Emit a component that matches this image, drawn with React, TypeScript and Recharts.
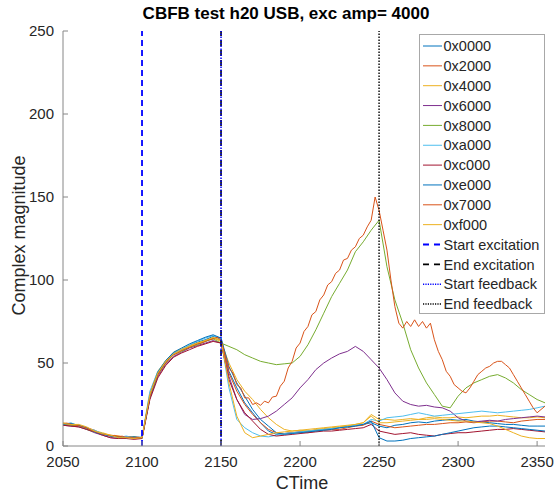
import React from 'react';
import { LineChart, Line, XAxis, YAxis, ReferenceLine, Label } from 'recharts';

// ---------- data ----------
const TITLE = 'CBFB test h20 USB, exc amp= 4000';
const X_LABEL = 'CTime';
const Y_LABEL = 'Complex magnitude';
const X_TICKS = [2050, 2100, 2150, 2200, 2250, 2300, 2350];
const Y_TICKS = [0, 50, 100, 150, 200, 250];
const X_DOMAIN = [2050, 2355];
const Y_DOMAIN = [0, 250];

// fine time grid (step 2.5) used by 0x7000; coarse series use every 2nd point (step 5)
const T_START = 2050;
const T_STEP = 2.5;

const S0000 = [13.5, 13, 12.5, 10.5, 9, 7.5, 6, 5.5, 5.5, 5, 4.5, 31, 44, 51, 56, 58, 60.5, 62.5, 64, 66, 65, 45, 35, 26, 20, 14, 9, 7, 7.5, 8, 8.5, 9, 9.5, 10, 10.5, 11, 12, 12.5, 13, 14, 12, 11, 12.5, 13, 14, 14.5, 14, 15, 15.5, 16, 15.5, 16, 15, 14.5, 14, 13.5, 13, 13, 12.5, 12, 12, 12];
const S2000 = [13, 13.5, 12, 11, 9.5, 7, 6.5, 6, 5, 5.5, 5, 29, 43, 50, 55.5, 57.5, 59.5, 61.5, 63, 65, 64, 44, 33, 25, 19, 14, 10, 8, 7.5, 8, 8.5, 8, 9, 9.5, 10, 10, 11, 12, 12.5, 15, 13, 12, 11, 11.5, 12, 12.5, 13, 13, 13.5, 14, 14, 14.5, 14, 14.5, 15, 15, 14.5, 14, 15, 15.5, 16, 16];
const S4000 = [14, 13, 12.5, 11, 9, 8, 6.5, 6, 5.5, 5, 5, 32, 45, 51.5, 56.5, 58.5, 60.5, 62, 63.5, 65, 63, 50, 40, 33, 28, 22, 17, 13, 10, 9, 9.5, 9, 10, 10.5, 11, 11.5, 12, 13, 14, 19, 16, 16, 15.5, 16, 16.5, 16, 17, 17.5, 17, 17, 17.5, 17, 17.5, 18, 18, 18.5, 18, 17.5, 17, 17, 17.5, 17];
const S6000 = [12.5, 12, 11.5, 10, 8, 6.5, 5, 4.5, 5.5, 4.5, 5, 29, 42, 49, 54, 56.5, 59, 60.5, 62, 63.5, 62, 42, 28, 19, 16, 16.5, 18, 21, 25, 29, 35, 40, 46, 50, 53, 55.5, 57, 60, 57, 52, 47, 40, 32, 27, 25, 24, 24.5, 23.5, 23, 21, 17, 15, 14.5, 15, 15.5, 15, 16, 16.5, 17, 17.5, 18, 17.5];
const S8000 = [13, 12.5, 12, 10, 8.5, 7.5, 6, 5.5, 5, 5.5, 4.5, 30, 43, 50, 55, 57, 59.5, 61, 63, 64.5, 62, 60, 58, 55, 53, 51, 50, 49, 49.5, 50, 54, 61, 70, 80, 90, 98, 106, 117, 123, 130, 136, 108, 88, 74, 58, 47, 38, 31, 24, 23, 30, 35, 38, 40, 42, 43, 41, 38, 34, 31, 28, 26];
const SA000 = [13, 14, 12, 10.5, 9.5, 7.5, 6, 5, 6, 5, 5.5, 33, 45, 51, 56, 58, 61, 63, 65, 66.5, 64, 35, 16, 11, 8, 6, 5.5, 6.5, 7.5, 8, 8.5, 9, 9.5, 10, 10.5, 11, 11.5, 12.5, 13, 16, 15, 17, 17.5, 18, 19, 20, 19, 18, 18.5, 19, 19.5, 20, 20.5, 21, 20.5, 20, 20.5, 21, 21.5, 22, 23, 24];
const SC000 = [12.5, 12, 11.5, 10, 8.5, 6.5, 5, 4.5, 4.5, 4, 4.5, 28, 41, 48.5, 53.5, 56, 58, 60, 61.5, 63, 62, 40, 28, 20, 15, 10, 7, 6, 6.5, 7, 7.5, 8, 8.5, 9, 9, 9.5, 10, 10.5, 11, 13, 9, 8, 7, 7.5, 8, 7, 6.5, 6, 7, 7.5, 8, 8, 8.5, 9, 9.5, 10, 10, 10.5, 10, 9.5, 9, 8.5];
const SE000 = [13, 13.5, 12.5, 11, 8.5, 7, 6, 5.5, 5, 5.5, 5, 30, 44.5, 51.5, 56.5, 59, 61.5, 63.5, 65.5, 67, 65, 48, 38, 30, 22, 16, 12, 8, 7, 7.5, 8, 8.5, 9, 9.5, 10, 11, 11.5, 12, 13, 15, 5, 3, 3, 3.5, 4.5, 5, 5.5, 6, 7, 8, 9, 10, 11, 11.5, 12, 12, 11.5, 11, 10.5, 10, 9.5, 9];
const SF000 = [13.5, 13, 13, 11.5, 9, 7.5, 6.5, 5, 5, 4.5, 5, 31, 44, 51, 55.5, 58, 60, 62, 63.5, 65.5, 63.5, 38, 18, 8, 5, 6, 7, 8, 8.5, 9, 9.5, 10, 10.5, 11, 11.5, 12, 12.5, 13, 14, 18, 14, 14, 14.5, 15, 15.5, 16, 16, 16.5, 16, 15.5, 15, 15, 14.5, 14, 13.5, 12, 10, 8, 6, 5, 4.5, 4.5];
const S7000 = [
  13.5, 13.8, 13, 12.6, 12.2, 11.5, 10.8, 9.6, 8.8, 8, 7.2, 6.9, 6.1, 6.4, 5.6, 5.9, 5.1, 5.4, 4.8, 5.2, 5.0,
  18, 30, 38, 43, 47, 50, 53, 55, 56, 57.5, 58.5, 59.5, 60.5, 61.5, 62, 63, 64, 64.5, 65.5, 64,
  55, 47, 44, 37, 35, 29, 29, 25, 26, 24.5, 27, 26, 29.5, 30, 36, 39, 47, 51, 59, 62, 69, 72, 79, 81, 88, 91, 97, 99, 104, 106, 112, 113, 118, 120, 125, 127, 132, 136, 150, 142,
  130, 118, 100, 84, 74, 71, 75, 72, 76, 72, 75, 71, 74, 64, 57, 52, 45, 42, 37, 35, 33, 32, 35, 39, 43, 45, 47, 48, 50, 51, 51, 49, 47, 43, 39, 35, 31, 27, 23, 20, 22, 24,
];

const SERIES = [
  { key: 's0000', name: '0x0000', color: '#0072BD', values: S0000, fine: false },
  { key: 's2000', name: '0x2000', color: '#D95319', values: S2000, fine: false },
  { key: 's4000', name: '0x4000', color: '#EDB120', values: S4000, fine: false },
  { key: 's6000', name: '0x6000', color: '#7E2F8E', values: S6000, fine: false },
  { key: 's8000', name: '0x8000', color: '#77AC30', values: S8000, fine: false },
  { key: 'sa000', name: '0xa000', color: '#4DBEEE', values: SA000, fine: false },
  { key: 'sc000', name: '0xc000', color: '#A2142F', values: SC000, fine: false },
  { key: 'se000', name: '0xe000', color: '#0072BD', values: SE000, fine: false },
  { key: 's7000', name: '0x7000', color: '#D95319', values: S7000, fine: true },
  { key: 'sf000', name: '0xf000', color: '#EDB120', values: SF000, fine: false },
];

const MARKERS = [
  { name: 'Start excitation', x: 2100, color: '#0000FF', dash: '6 4', legendDash: '6 5', width: 1.8 },
  { name: 'End excitation', x: 2150, color: '#000000', dash: '6 4', legendDash: '6 5', width: 1.6 },
  { name: 'Start feedback', x: 2150, color: '#0000FF', dash: '1.5 1.5', legendDash: '1.2 1.2', width: 1.5 },
  { name: 'End feedback', x: 2250, color: '#000000', dash: '1.5 1.5', legendDash: '1.2 1.2', width: 1.4 },
];

// build the table
const rows = S7000.map((v, i) => {
  const r: any = { t: T_START + T_STEP * i };
  SERIES.forEach((s) => {
    if (s.fine) r[s.key] = s.values[i];
    else if (i % 2 === 0) r[s.key] = s.values[i / 2];
  });
  return r;
});

// ---------- styles ----------
const FONT = '"Liberation Sans", Arial, Helvetica, sans-serif';
const TEXT = '#262626';
const AXIS = '#868686';
const TICK_LEN = 5;
const X_TICK_MARGIN = 10.5;
const Y_TICK_MARGIN = 9;
const TICK_FS = 15;
const LABEL_FS = 18;
const W = 556;
const H = 495;

const XTick = (p: any) => {
  const { x, y, payload } = p;
  const axisY = y - X_TICK_MARGIN;
  return (
    <g>
      <line x1={x} x2={x} y1={axisY} y2={axisY - TICK_LEN} stroke={AXIS} strokeWidth={1} />
      <text x={x} y={y} dy="0.71em" textAnchor="middle" fill={TEXT} fontSize={TICK_FS} fontFamily={FONT}>
        {payload.value}
      </text>
    </g>
  );
};

const YTick = (p: any) => {
  const { x, y, payload } = p;
  const axisX = x + Y_TICK_MARGIN;
  return (
    <g>
      <line x1={axisX} x2={axisX + TICK_LEN} y1={y} y2={y} stroke={AXIS} strokeWidth={1} />
      <text x={x} y={y} dy="0.3em" textAnchor="end" fill={TEXT} fontSize={TICK_FS} fontFamily={FONT}>
        {payload.value}
      </text>
    </g>
  );
};

const XLabel = (p: any) => {
  const vb = p.viewBox || { x: 63, y: 446, width: 482, height: 49 };
  const cx = vb.x + vb.width / 2 - 2;
  return (
    <text x={cx} y={vb.y + 43} textAnchor="middle" fill={TEXT} fontSize={LABEL_FS} fontFamily={FONT}>
      {X_LABEL}
    </text>
  );
};

const YLabel = (p: any) => {
  const vb = p.viewBox || { x: 0, y: 31, width: 63, height: 415 };
  const cx = vb.x + 19;
  const cy = vb.y + vb.height / 2 - 3;
  return (
    <text
      x={cx}
      y={cy}
      transform={`rotate(-90 ${cx} ${cy})`}
      textAnchor="middle"
      dominantBaseline="central"
      fill={TEXT}
      fontSize={LABEL_FS}
      fontFamily={FONT}
    >
      {Y_LABEL}
    </text>
  );
};

const LegendBox = () => {
  const items = [
    ...SERIES.map((s) => ({ name: s.name, color: s.color, dash: undefined as string | undefined, width: 1 })),
    ...MARKERS.map((m) => ({ name: m.name, color: m.color, dash: m.legendDash, width: m.width })),
  ];
  const bw = 126;
  const bh = 280;
  return (
    <div
      style={{
        position: 'absolute',
        left: 419,
        top: 34,
        width: bw,
        height: bh,
        background: '#fff',
        border: '1px solid #a8a8a8',
        boxSizing: 'border-box',
      }}
    >
      <svg width={bw - 2} height={bh - 2} style={{ display: 'block' }}>
        {items.map((it, i) => {
          const y = 11 + i * 19.85;
          return (
            <g key={it.name + i}>
              <line x1={3} x2={22} y1={y} y2={y} stroke={it.color} strokeWidth={it.width} strokeDasharray={it.dash} />
              <text x={23.5} y={y} dy="0.36em" fill={TEXT} fontSize={14.5} fontFamily={FONT}>
                {it.name}
              </text>
            </g>
          );
        })}
      </svg>
    </div>
  );
};

export default function App() {
  return (
    <div style={{ position: 'absolute', left: 0, top: 0, width: W, height: H, background: '#fff' }}>
      <div
        style={{
          position: 'absolute',
          left: 0,
          top: 4,
          width: 572,
          textAlign: 'center',
          fontFamily: FONT,
          fontWeight: 'bold',
          fontSize: 17,
          lineHeight: '20px',
          color: '#000',
        }}
      >
        {TITLE}
      </div>
      <LineChart width={W} height={H} data={rows} margin={{ top: 31, right: 11, bottom: 0, left: 0 }}>
        <XAxis
          dataKey="t"
          type="number"
          domain={X_DOMAIN}
          ticks={X_TICKS}
          interval={0}
          allowDataOverflow
          height={49}
          tickSize={0}
          tickMargin={X_TICK_MARGIN}
          tickLine={false}
          axisLine={{ stroke: AXIS, strokeWidth: 1 }}
          tick={<XTick />}
        >
          <Label content={<XLabel />} />
        </XAxis>
        <YAxis
          type="number"
          domain={Y_DOMAIN}
          ticks={Y_TICKS}
          interval={0}
          allowDataOverflow
          width={63}
          tickSize={0}
          tickMargin={Y_TICK_MARGIN}
          tickLine={false}
          axisLine={{ stroke: AXIS, strokeWidth: 1 }}
          tick={<YTick />}
        >
          <Label content={<YLabel />} />
        </YAxis>
        {SERIES.map((s) => (
          <Line
            key={s.key}
            dataKey={s.key}
            name={s.name}
            stroke={s.color}
            strokeWidth={1}
            dot={false}
            activeDot={false}
            type="linear"
            connectNulls
            isAnimationActive={false}
          />
        ))}
        {MARKERS.map((m) => (
          <ReferenceLine
            key={m.name}
            x={m.x}
            stroke={m.color}
            strokeWidth={m.width}
            strokeDasharray={m.dash}
            ifOverflow="visible"
          />
        ))}
      </LineChart>
      <LegendBox />
    </div>
  );
}
